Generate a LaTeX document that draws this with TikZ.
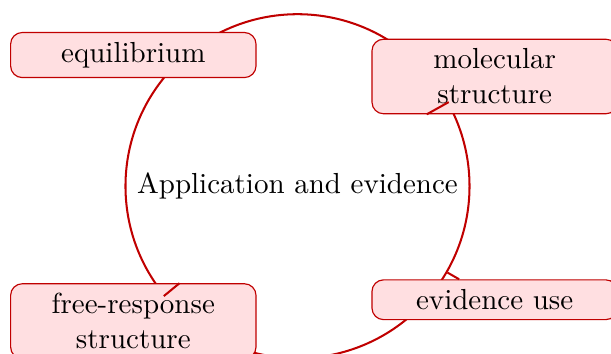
\documentclass[tikz,border=0pt]{standalone}
\usepackage{tikz}
\usetikzlibrary{shapes.geometric, arrows}
\usepackage{amsmath}

\definecolor{darkred}{RGB}{192,0,0}
\definecolor{pinkfill}{RGB}{255,223,225}

\begin{document}
\begin{tikzpicture}
        \tikzstyle{hub} = [circle, minimum size=4.17cm, inner sep=0pt, draw=darkred, line width=0.7pt]
        \tikzstyle{topic} = [rectangle, rounded corners=4pt, text width=2.74cm, align=center, fill=pinkfill, draw=darkred, line width=0.4pt]
        \tikzstyle{link} = [darkred, line width=0.7pt]
        \useasboundingbox (-3.606,-2.033) rectangle (3.800,2.257);
        \node [hub] (c) at (0, 0) {Application and evidence};
	 \node [topic] (eq) at (-1.99, 1.59) {equilibrium};
	 \node [topic] (mol) at (2.39, 1.33) {molecular\\ structure};
	 \node [topic] (fr) at (-1.99, -1.636) {free-response\\ structure};
	 \node [topic] (ev) at (2.39, -1.376) {evidence use};
     \draw[link] (c) to (eq);
     \draw[link] (c) to (mol);
     \draw[link] (c) to (fr);
     \draw[link] (c) to (ev);
    \end{tikzpicture}
\end{document}
